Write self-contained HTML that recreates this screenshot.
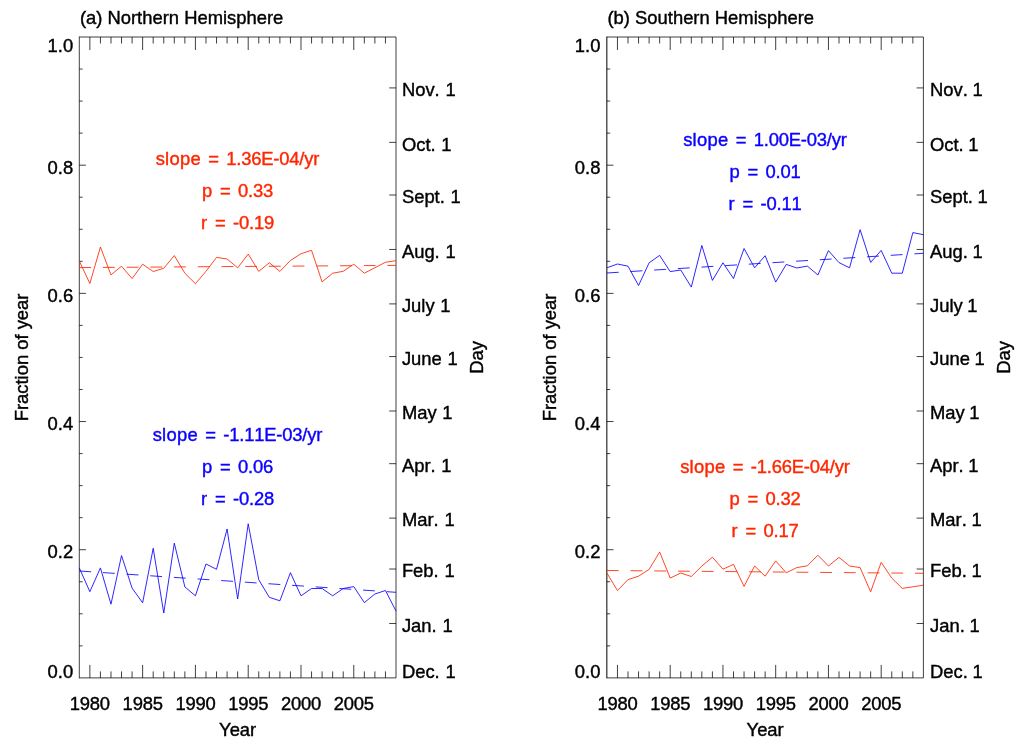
<!DOCTYPE html>
<html><head><meta charset="utf-8"><title>Figure</title>
<style>
html,body{margin:0;padding:0;background:#fff;}
body{width:1024px;height:750px;overflow:hidden;}
svg{display:block;will-change:transform;}
text{font-family:"Liberation Sans",sans-serif;font-size:18.4px;fill:#000;stroke:#000;stroke-width:0.4px;}
.nk{font-kerning:none;}
</style></head><body>
<svg width="1024" height="750" viewBox="0 0 1024 750">
<rect width="1024" height="750" fill="#fff"/>
<g>
<path d="M79.3 677.9H396V37H79.3" fill="none" stroke="#000" stroke-width="0.75"/>
<path d="M79.3 678.27V36.62" fill="none" stroke="#000" stroke-width="0.75"/>
<path d="M89.86 677.9v-13M89.86 37v13M100.41 677.9v-6.5M100.41 37v6.5M110.97 677.9v-6.5M110.97 37v6.5M121.53 677.9v-6.5M121.53 37v6.5M132.08 677.9v-6.5M132.08 37v6.5M142.64 677.9v-13M142.64 37v13M153.2 677.9v-6.5M153.2 37v6.5M163.75 677.9v-6.5M163.75 37v6.5M174.31 677.9v-6.5M174.31 37v6.5M184.87 677.9v-6.5M184.87 37v6.5M195.42 677.9v-13M195.42 37v13M205.98 677.9v-6.5M205.98 37v6.5M216.54 677.9v-6.5M216.54 37v6.5M227.09 677.9v-6.5M227.09 37v6.5M237.65 677.9v-6.5M237.65 37v6.5M248.21 677.9v-13M248.21 37v13M258.76 677.9v-6.5M258.76 37v6.5M269.32 677.9v-6.5M269.32 37v6.5M279.88 677.9v-6.5M279.88 37v6.5M290.43 677.9v-6.5M290.43 37v6.5M300.99 677.9v-13M300.99 37v13M311.55 677.9v-6.5M311.55 37v6.5M322.1 677.9v-6.5M322.1 37v6.5M332.66 677.9v-6.5M332.66 37v6.5M343.22 677.9v-6.5M343.22 37v6.5M353.77 677.9v-13M353.77 37v13M364.33 677.9v-6.5M364.33 37v6.5M374.89 677.9v-6.5M374.89 37v6.5M385.44 677.9v-6.5M385.44 37v6.5M79.3 645.86h3.3M79.3 613.81h3.3M79.3 581.76h3.3M79.3 549.72h6.6M79.3 517.67h3.3M79.3 485.63h3.3M79.3 453.58h3.3M79.3 421.54h6.6M79.3 389.5h3.3M79.3 357.45h3.3M79.3 325.4h3.3M79.3 293.36h6.6M79.3 261.31h3.3M79.3 229.27h3.3M79.3 197.23h3.3M79.3 165.18h6.6M79.3 133.13h3.3M79.3 101.09h3.3M79.3 69.04h3.3M396 623.47h-6.8M396 569.03h-6.8M396 518.11h-6.8M396 463.68h-6.8M396 411h-6.8M396 356.57h-6.8M396 303.9h-6.8M396 249.46h-6.8M396 195.03h-6.8M396 142.35h-6.8M396 87.92h-6.8" fill="none" stroke="#000" stroke-width="0.75"/>
<text x="79.9" y="23.6">(a) Northern Hemisphere</text>
<text x="47.62 57.85 62.97" y="677.8">0.0</text>
<text x="47.62 57.85 62.97" y="558.12">0.2</text>
<text x="47.62 57.85 62.97" y="429.94">0.4</text>
<text x="47.62 57.85 62.97" y="301.76">0.6</text>
<text x="47.62 57.85 62.97" y="173.58">0.8</text>
<text x="47.62 57.85 62.97" y="51.5">1.0</text>
<text x="69.84 79.85 89.86 99.87" y="709.5">1980</text>
<text x="122.62 132.63 142.64 152.65" y="709.5">1985</text>
<text x="175.4 185.41 195.42 205.43" y="709.5">1990</text>
<text x="228.19 238.2 248.21 258.22" y="709.5">1995</text>
<text x="280.97 290.98 300.99 311" y="709.5">2000</text>
<text x="333.75 343.76 353.77 363.78" y="709.5">2005</text>
<text x="237.65" y="736.2" text-anchor="middle">Year</text>
<text transform="translate(28.2 357.45) rotate(-90)" text-anchor="middle">Fraction of year</text>
<text transform="translate(482.9 357.45) rotate(-90)" text-anchor="middle">Day</text>
<text class="nk" x="401.9" y="677.8">Dec. <tspan x="445.45">1</tspan></text>
<text class="nk" x="401.9" y="631.67">Jan. <tspan x="442.39">1</tspan></text>
<text class="nk" x="401.9" y="577.23">Feb. <tspan x="444.43">1</tspan></text>
<text class="nk" x="401.9" y="526.31">Mar. <tspan x="444.41">1</tspan></text>
<text class="nk" x="401.9" y="471.88">Apr. <tspan x="441.36">1</tspan></text>
<text class="nk" x="401.9" y="419.2">May <tspan x="442.37">1</tspan></text>
<text class="nk" x="401.9" y="364.77">June <tspan x="447.51">1</tspan></text>
<text class="nk" x="401.9" y="312.1">July <tspan x="440.34">1</tspan></text>
<text class="nk" x="401.9" y="257.66">Aug. <tspan x="445.47">1</tspan></text>
<text class="nk" x="401.9" y="203.23">Sept. <tspan x="450.58">1</tspan></text>
<text class="nk" x="401.9" y="150.55">Oct. <tspan x="441.35">1</tspan></text>
<text class="nk" x="401.9" y="96.12">Nov. <tspan x="445.45">1</tspan></text>
<polyline points="79.3,261 89.86,283.5 100.41,247 110.97,274.9 121.53,266.2 132.08,278.6 142.64,264.2 153.2,271.5 163.75,268.3 174.31,255.6 184.87,273.2 195.42,283.7 205.98,271.3 216.54,257.4 227.09,259 237.65,267.8 248.21,254 258.76,271.4 269.32,262.8 279.88,271.4 290.43,260.5 300.99,253.7 311.55,250.3 322.1,281.9 332.66,273.2 343.22,271.3 353.77,264.2 364.33,273.2 374.89,267.7 385.44,262.3 396,260.7" fill="none" stroke="#ff2600" stroke-width="0.85" stroke-linejoin="miter" stroke-miterlimit="10"/>
<line x1="79.3" y1="267.6" x2="396" y2="265.4" stroke="#ff2600" stroke-width="0.85" stroke-dasharray="11.85 11.85"/>
<polyline points="79.3,567.9 89.86,591.7 100.41,567.9 110.97,604.2 121.53,555.6 132.08,588.1 142.64,602.8 153.2,548.3 163.75,613 174.31,543.2 184.87,586.9 195.42,595.8 205.98,564 216.54,569.3 227.09,529 237.65,599 248.21,523.8 258.76,579.8 269.32,597.3 279.88,600.8 290.43,572.7 300.99,595.8 311.55,588.5 322.1,588.5 332.66,595.8 343.22,588.5 353.77,586.6 364.33,602.6 374.89,594 385.44,590.5 396,611" fill="none" stroke="#0a00ff" stroke-width="0.85" stroke-linejoin="miter" stroke-miterlimit="10"/>
<line x1="79.3" y1="571" x2="396" y2="592.3" stroke="#0a00ff" stroke-width="0.85" stroke-dasharray="11.85 11.85"/>
<text x="155.63" y="165.18" style="fill:#ff2600;stroke:#ff2600;letter-spacing:0.3px">slope</text>
<text x="213.57" y="165.18" text-anchor="middle" style="fill:#ff2600;stroke:#ff2600">=</text>
<text x="226.22 236.23 241.23 251.24 261.25 273.26 279.25 289.26 299.27 304.27 313.27" y="165.18" style="fill:#ff2600;stroke:#ff2600">1.36E-04/yr</text>
<text x="201.92" y="197.23" style="fill:#ff2600;stroke:#ff2600;letter-spacing:0px">p</text>
<text x="225.3" y="197.23" text-anchor="middle" style="fill:#ff2600;stroke:#ff2600">=</text>
<text x="237.95 247.96 252.96 262.97" y="197.23" style="fill:#ff2600;stroke:#ff2600">0.33</text>
<text x="200.97" y="229.27" style="fill:#ff2600;stroke:#ff2600;letter-spacing:0px">r</text>
<text x="220.25" y="229.27" text-anchor="middle" style="fill:#ff2600;stroke:#ff2600">=</text>
<text x="232.9 238.89 248.91 253.91 263.92" y="229.27" style="fill:#ff2600;stroke:#ff2600">-0.19</text>
<text x="152.63" y="440.77" style="fill:#0a00ff;stroke:#0a00ff;letter-spacing:0.3px">slope</text>
<text x="210.57" y="440.77" text-anchor="middle" style="fill:#0a00ff;stroke:#0a00ff">=</text>
<text x="223.22 229.22 239.23 244.23 254.24 264.25 276.26 282.25 292.26 302.27 307.27 316.27" y="440.77" style="fill:#0a00ff;stroke:#0a00ff">-1.11E-03/yr</text>
<text x="201.92" y="472.81" style="fill:#0a00ff;stroke:#0a00ff;letter-spacing:0px">p</text>
<text x="225.3" y="472.81" text-anchor="middle" style="fill:#0a00ff;stroke:#0a00ff">=</text>
<text x="237.95 247.96 252.96 262.97" y="472.81" style="fill:#0a00ff;stroke:#0a00ff">0.06</text>
<text x="200.97" y="504.86" style="fill:#0a00ff;stroke:#0a00ff;letter-spacing:0px">r</text>
<text x="220.25" y="504.86" text-anchor="middle" style="fill:#0a00ff;stroke:#0a00ff">=</text>
<text x="232.9 238.89 248.91 253.91 263.92" y="504.86" style="fill:#0a00ff;stroke:#0a00ff">-0.28</text>
</g>
<g>
<path d="M606.9 677.9H923.4V37H606.9" fill="none" stroke="#000" stroke-width="0.75"/>
<path d="M606.85 678.27V36.62" fill="none" stroke="#000" stroke-width="1.0"/>
<path d="M617.45 677.9v-13M617.45 37v13M628 677.9v-6.5M628 37v6.5M638.55 677.9v-6.5M638.55 37v6.5M649.1 677.9v-6.5M649.1 37v6.5M659.65 677.9v-6.5M659.65 37v6.5M670.2 677.9v-13M670.2 37v13M680.75 677.9v-6.5M680.75 37v6.5M691.3 677.9v-6.5M691.3 37v6.5M701.85 677.9v-6.5M701.85 37v6.5M712.4 677.9v-6.5M712.4 37v6.5M722.95 677.9v-13M722.95 37v13M733.5 677.9v-6.5M733.5 37v6.5M744.05 677.9v-6.5M744.05 37v6.5M754.6 677.9v-6.5M754.6 37v6.5M765.15 677.9v-6.5M765.15 37v6.5M775.7 677.9v-13M775.7 37v13M786.25 677.9v-6.5M786.25 37v6.5M796.8 677.9v-6.5M796.8 37v6.5M807.35 677.9v-6.5M807.35 37v6.5M817.9 677.9v-6.5M817.9 37v6.5M828.45 677.9v-13M828.45 37v13M839 677.9v-6.5M839 37v6.5M849.55 677.9v-6.5M849.55 37v6.5M860.1 677.9v-6.5M860.1 37v6.5M870.65 677.9v-6.5M870.65 37v6.5M881.2 677.9v-13M881.2 37v13M891.75 677.9v-6.5M891.75 37v6.5M902.3 677.9v-6.5M902.3 37v6.5M912.85 677.9v-6.5M912.85 37v6.5M606.9 645.86h3.3M606.9 613.81h3.3M606.9 581.76h3.3M606.9 549.72h6.6M606.9 517.67h3.3M606.9 485.63h3.3M606.9 453.58h3.3M606.9 421.54h6.6M606.9 389.5h3.3M606.9 357.45h3.3M606.9 325.4h3.3M606.9 293.36h6.6M606.9 261.31h3.3M606.9 229.27h3.3M606.9 197.23h3.3M606.9 165.18h6.6M606.9 133.13h3.3M606.9 101.09h3.3M606.9 69.04h3.3M923.4 623.47h-6.8M923.4 569.03h-6.8M923.4 518.11h-6.8M923.4 463.68h-6.8M923.4 411h-6.8M923.4 356.57h-6.8M923.4 303.9h-6.8M923.4 249.46h-6.8M923.4 195.03h-6.8M923.4 142.35h-6.8M923.4 87.92h-6.8" fill="none" stroke="#000" stroke-width="0.75"/>
<text x="607.5" y="23.6">(b) Southern Hemisphere</text>
<text x="574.87 585.1 590.22" y="677.8">0.0</text>
<text x="574.87 585.1 590.22" y="558.12">0.2</text>
<text x="574.87 585.1 590.22" y="429.94">0.4</text>
<text x="574.87 585.1 590.22" y="301.76">0.6</text>
<text x="574.87 585.1 590.22" y="173.58">0.8</text>
<text x="574.87 585.1 590.22" y="51.5">1.0</text>
<text x="597.43 607.44 617.45 627.46" y="709.5">1980</text>
<text x="650.18 660.19 670.2 680.21" y="709.5">1985</text>
<text x="702.93 712.94 722.95 732.96" y="709.5">1990</text>
<text x="755.68 765.69 775.7 785.71" y="709.5">1995</text>
<text x="808.43 818.44 828.45 838.46" y="709.5">2000</text>
<text x="861.18 871.19 881.2 891.21" y="709.5">2005</text>
<text x="765.15" y="736.2" text-anchor="middle">Year</text>
<text transform="translate(555.8 357.45) rotate(-90)" text-anchor="middle">Fraction of year</text>
<text transform="translate(1010.3 357.45) rotate(-90)" text-anchor="middle">Day</text>
<text class="nk" x="930" y="677.8">Dec. <tspan x="972.45">1</tspan></text>
<text class="nk" x="930" y="631.67">Jan. <tspan x="969.39">1</tspan></text>
<text class="nk" x="930" y="577.23">Feb. <tspan x="971.43">1</tspan></text>
<text class="nk" x="930" y="526.31">Mar. <tspan x="971.41">1</tspan></text>
<text class="nk" x="930" y="471.88">Apr. <tspan x="968.36">1</tspan></text>
<text class="nk" x="930" y="419.2">May <tspan x="969.37">1</tspan></text>
<text class="nk" x="930" y="364.77">June <tspan x="974.51">1</tspan></text>
<text class="nk" x="930" y="312.1">July <tspan x="967.34">1</tspan></text>
<text class="nk" x="930" y="257.66">Aug. <tspan x="972.47">1</tspan></text>
<text class="nk" x="930" y="203.23">Sept. <tspan x="977.58">1</tspan></text>
<text class="nk" x="930" y="150.55">Oct. <tspan x="968.35">1</tspan></text>
<text class="nk" x="930" y="96.12">Nov. <tspan x="972.45">1</tspan></text>
<polyline points="606.9,267.8 617.45,264 628,266.2 638.55,285.5 649.1,262.8 659.65,255.4 670.2,271.6 680.75,270 691.3,287.1 701.85,245.5 712.4,280.4 722.95,262.8 733.5,278.5 744.05,248.5 754.6,267.8 765.15,255.7 775.7,282.1 786.25,264.4 796.8,268 807.35,266.1 817.9,275 828.45,250.6 839,262.6 849.55,267.8 860.1,229.7 870.65,262.4 881.2,250.4 891.75,273.2 902.3,273.2 912.85,232.6 923.4,234.7" fill="none" stroke="#0a00ff" stroke-width="0.85" stroke-linejoin="miter" stroke-miterlimit="10"/>
<line x1="606.9" y1="273" x2="923.4" y2="253.3" stroke="#0a00ff" stroke-width="0.85" stroke-dasharray="11.85 11.85"/>
<polyline points="606.9,573 617.45,590.5 628,579.6 638.55,576.2 649.1,569.4 659.65,552 670.2,578.1 680.75,573 691.3,576.5 701.85,566 712.4,557.2 722.95,569.2 733.5,564.4 744.05,586.4 754.6,566 765.15,576.2 775.7,560.9 786.25,572.8 796.8,567.6 807.35,565.8 817.9,555.2 828.45,566 839,557.4 849.55,566 860.1,567.6 870.65,591.8 881.2,562.3 891.75,578.1 902.3,588.4 912.85,586.8 923.4,585.2" fill="none" stroke="#ff2600" stroke-width="0.85" stroke-linejoin="miter" stroke-miterlimit="10"/>
<line x1="606.9" y1="570.5" x2="923.4" y2="573.3" stroke="#ff2600" stroke-width="0.85" stroke-dasharray="11.85 11.85"/>
<text x="683.13" y="145.95" style="fill:#0a00ff;stroke:#0a00ff;letter-spacing:0.3px">slope</text>
<text x="741.07" y="145.95" text-anchor="middle" style="fill:#0a00ff;stroke:#0a00ff">=</text>
<text x="753.72 763.73 768.73 778.74 788.75 800.76 806.75 816.76 826.77 831.77 840.77" y="145.95" style="fill:#0a00ff;stroke:#0a00ff">1.00E-03/yr</text>
<text x="729.42" y="178" style="fill:#0a00ff;stroke:#0a00ff;letter-spacing:0px">p</text>
<text x="752.8" y="178" text-anchor="middle" style="fill:#0a00ff;stroke:#0a00ff">=</text>
<text x="765.45 775.46 780.46 790.47" y="178" style="fill:#0a00ff;stroke:#0a00ff">0.01</text>
<text x="728.47" y="210.04" style="fill:#0a00ff;stroke:#0a00ff;letter-spacing:0px">r</text>
<text x="747.75" y="210.04" text-anchor="middle" style="fill:#0a00ff;stroke:#0a00ff">=</text>
<text x="760.4 766.39 776.41 781.41 791.42" y="210.04" style="fill:#0a00ff;stroke:#0a00ff">-0.11</text>
<text x="680.13" y="472.81" style="fill:#ff2600;stroke:#ff2600;letter-spacing:0.3px">slope</text>
<text x="738.07" y="472.81" text-anchor="middle" style="fill:#ff2600;stroke:#ff2600">=</text>
<text x="750.72 756.72 766.73 771.73 781.74 791.75 803.76 809.75 819.76 829.77 834.77 843.77" y="472.81" style="fill:#ff2600;stroke:#ff2600">-1.66E-04/yr</text>
<text x="729.42" y="504.86" style="fill:#ff2600;stroke:#ff2600;letter-spacing:0px">p</text>
<text x="752.8" y="504.86" text-anchor="middle" style="fill:#ff2600;stroke:#ff2600">=</text>
<text x="765.45 775.46 780.46 790.47" y="504.86" style="fill:#ff2600;stroke:#ff2600">0.32</text>
<text x="731.47" y="536.9" style="fill:#ff2600;stroke:#ff2600;letter-spacing:0px">r</text>
<text x="750.75" y="536.9" text-anchor="middle" style="fill:#ff2600;stroke:#ff2600">=</text>
<text x="763.4 773.41 778.41 788.42" y="536.9" style="fill:#ff2600;stroke:#ff2600">0.17</text>
</g>
</svg>
</body></html>
